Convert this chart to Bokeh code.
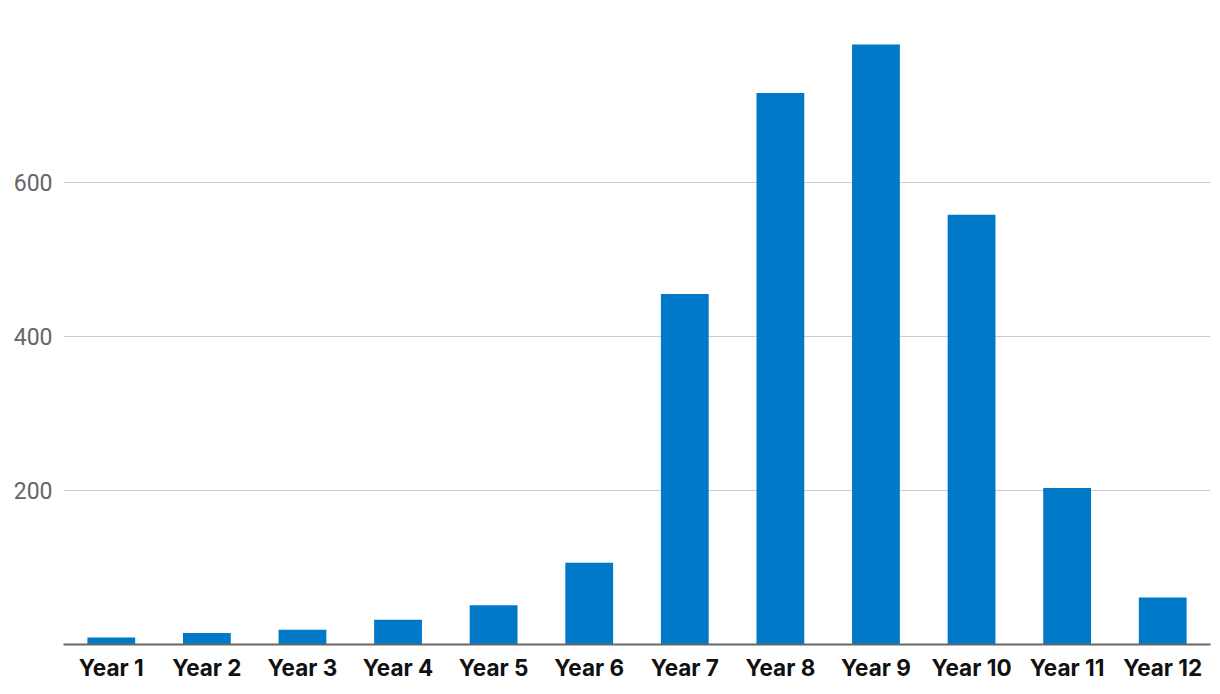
from bokeh.plotting import figure
from bokeh.models import FixedTicker, Range1d
from bokeh.embed import file_html
from bokeh.resources import INLINE

categories = ["Year 1", "Year 2", "Year 3", "Year 4", "Year 5", "Year 6",
              "Year 7", "Year 8", "Year 9", "Year 10", "Year 11", "Year 12"]
values = [9, 15, 19, 32, 51, 106, 455, 716, 779, 558, 203, 61]
y_ticks = [200, 400, 600]

p = figure(x_range=categories, y_range=Range1d(0, 836), width=1220, height=694,
           output_backend="svg", toolbar_location=None,
           min_border_left=63, min_border_right=10, min_border_top=0, min_border_bottom=50)
p.outline_line_color = None
p.background_fill_color = "white"
p.border_fill_color = "white"

p.vbar(x=categories, top=values, width=0.5, color="#0079C8", line_color=None)

p.xgrid.grid_line_color = None
p.ygrid.grid_line_color = "#cccccc"
p.ygrid.grid_line_width = 1
p.yaxis.ticker = FixedTicker(ticks=y_ticks)
p.yaxis.axis_line_color = None
p.yaxis.major_tick_line_color = None
p.yaxis.minor_tick_line_color = None
p.yaxis.major_label_text_font = "Roboto"
p.yaxis.major_label_text_font_size = "23px"
p.yaxis.major_label_text_color = "#666666"
p.yaxis.major_label_standoff = 5

p.xaxis.axis_line_color = "#666666"
p.xaxis.axis_line_width = 2
p.xaxis.major_tick_line_color = None
p.xaxis.minor_tick_line_color = None
p.xaxis.major_label_text_font = "Inter"
p.xaxis.major_label_text_font_style = "bold"
p.xaxis.major_label_text_font_size = "22.5px"
p.xaxis.major_label_text_color = "#111111"
p.xaxis.major_label_standoff = 3

open("out.html", "w").write(file_html(p, INLINE))
